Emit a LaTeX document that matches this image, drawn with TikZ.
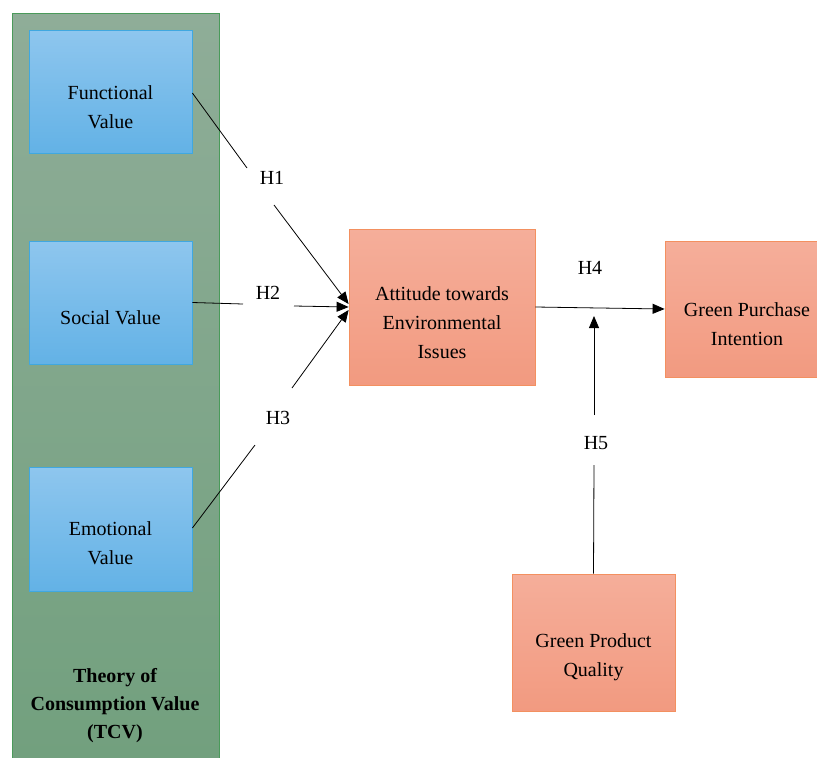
\documentclass[tikz,border=0pt]{standalone}
\usepackage{fontspec}
\setmainfont{Liberation Serif}
\newfontfamily\tnr{Liberation Serif}
\usetikzlibrary{arrows.meta}
\definecolor{pantop}{HTML}{8FAD98}
\definecolor{panbot}{HTML}{72A07E}
\definecolor{panline}{HTML}{4A9A5A}
\definecolor{bluetop}{HTML}{8EC6EE}
\definecolor{bluebot}{HTML}{63B2E6}
\definecolor{blueline}{HTML}{40A8E0}
\definecolor{saltop}{HTML}{F5AE9A}
\definecolor{salbot}{HTML}{F29A80}
\definecolor{salline}{HTML}{F39060}
\begin{document}
\begin{tikzpicture}[x=1pt,y=-1pt,
  panelbox/.style={draw=panline,line width=0.8pt,top color=pantop,bottom color=panbot,
    minimum width=207pt,minimum height=745pt,inner sep=0pt},
  bluebox/.style={draw=blueline,line width=0.8pt,top color=bluetop,bottom color=bluebot,
    minimum width=163pt,minimum height=123pt,inner sep=0pt},
  salbox/.style={draw=salline,line width=0.8pt,top color=saltop,bottom color=salbot,
    inner sep=0pt},
  boxtext/.style={align=center,font=\tnr\fontsize{20}{29}\selectfont,inner sep=0pt},
  hlabel/.style={font=\tnr\fontsize{20}{24}\selectfont,inner sep=0pt},
  conn/.style={draw=black,line width=0.8pt},
  arr/.style={conn,-{Triangle[length=12pt,width=10pt]}}
]
\useasboundingbox[fill=white] (0,0) rectangle (817,758);

% panel
\node[panelbox] (panel) at (115.5,385.5) {};
\node[boxtext,font=\tnr\fontsize{20}{28}\selectfont\bfseries] (paneltext) at (115,706)
  {Theory of\\Consumption Value\\(TCV)};

% blue boxes
\node[bluebox] (fv) at (110.5,91.5) {};
\node[boxtext] (fvt) at (110.5,107) {Functional\\Value};
\node[bluebox] (sv) at (110.5,302.5) {};
\node[boxtext] (svt) at (110.5,318) {Social Value};
\node[bluebox,minimum height=124pt] (ev) at (110.5,529) {};
\node[boxtext] (evt) at (110.5,543) {Emotional\\Value};

% salmon boxes
\node[salbox,minimum width=186pt,minimum height=156pt] (att) at (442,307) {};
\node[boxtext] (attt) at (442,322.5) {Attitude towards\\Environmental\\Issues};
\node[salbox,minimum width=164pt,minimum height=136pt] (gpi) at (747,309) {};
\node[boxtext] (gpit) at (747,324.5) {Green Purchase\\Intention};
\node[salbox,minimum width=163pt,minimum height=137pt] (gpq) at (593.5,642.5) {};
\node[boxtext] (gpqt) at (593.5,657.5) {Green Product\\Quality};

% labels
\node[hlabel] (h1) at (272,178) {H1};
\node[hlabel] (h2) at (268,293) {H2};
\node[hlabel] (h3) at (278,418) {H3};
\node[hlabel] (h4) at (590,268) {H4};
\node[hlabel] (h5) at (596,443) {H5};

% gap coordinates
\coordinate (h1a) at (247,168);
\coordinate (h1b) at (274,205);
\coordinate (h2a) at (243,304);
\coordinate (h2b) at (294,306);
\coordinate (h3a) at (255,445);
\coordinate (h3b) at (292,388);
\coordinate (h5a) at (594,465);
\coordinate (h5b) at (594,415);
\coordinate (h5tip) at (594,316);

% connectors
\draw[conn] ([yshift=-1.5pt]fv.east) -- (h1a);
\draw[arr] (h1b) -- ([yshift=3pt]att.west);
\draw[conn] (sv.east) -- (h2a);
\draw[arr] (h2b) -- (att.west);
\draw[conn] ([yshift=1pt]ev.east) -- (h3a);
\draw[arr] (h3b) -- ([yshift=-3pt]att.west);
\draw[arr] (att.east) -- (gpi.west);
\draw[conn] (gpq.north) -- (h5a);
\draw[arr] (h5b) -- (h5tip);
\end{tikzpicture}
\end{document}
